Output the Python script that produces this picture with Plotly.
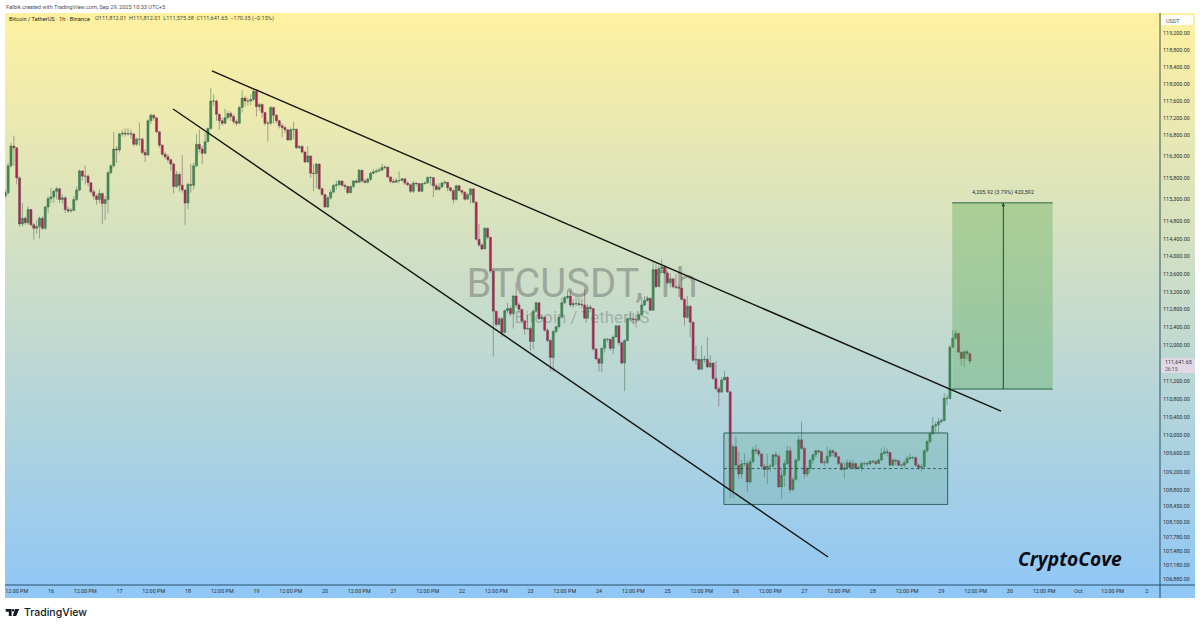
import numpy as np
import pandas as pd
import plotly.graph_objects as go

W, H = 1200, 627
start_time = "2025-09-15 08:00"
first_open = 115380

closes = [115455,116080,116540,116500,115800,114740,114870,114770,115070,114720,114640,114680,114870,114640,115130,115320,115360,115490,115550,115300,115340,115070,115040,115050,115300,115520,115960,115840,115840,115690,115480,115380,115300,115440,115210,115300,115920,116080,116470,116450,
116820,116840,116820,116830,116820,116580,116700,116700,116390,116330,117130,117260,117200,116870,116560,116350,116290,116220,116120,115600,115880,115630,115520,115220,115650,115630,116080,116580,116470,116370,116640,116950,117590,117590,117280,117130,117070,117200,117300,117230,
117110,117070,117440,117660,117590,117590,117630,117820,117460,117510,117320,117070,117070,117440,117260,117130,117010,116970,116920,116680,116920,116930,116500,116530,116400,116170,116310,115910,115900,116120,115550,115420,115130,115340,115470,115630,115640,115730,115630,115600,
115460,115600,115730,115700,115980,115730,115700,115770,115910,115940,115960,115980,116040,116050,115820,115720,115700,115740,115740,115780,115680,115640,115490,115680,115670,115490,115670,115680,115810,115810,115620,115530,115590,115680,115700,115570,115510,115300,115620,115510,
115470,115310,115410,115545,115240,114390,114260,114170,114640,114435,113665,112760,112460,112590,112280,112770,112820,112700,113100,112900,112800,112540,112360,112370,112080,112760,112950,112590,112620,112330,112100,111720,112300,112410,112620,112950,113065,113100,112900,112930,
112930,112910,112900,112600,112850,112820,111910,111690,111590,111925,112130,112130,111925,112180,112430,112050,111600,112100,112590,112590,112565,112565,112680,112900,113000,113050,112780,113700,113310,113720,113760,113620,113400,113490,113310,113300,113280,113025,112620,112870,
112510,111660,111680,111460,111680,111680,111510,111600,111255,111025,110950,111220,111280,110960,108795,109750,109345,109150,109370,109380,108980,109420,109680,109660,109590,109320,109250,109320,109320,109570,109540,108870,109125,109380,109660,108810,109030,109455,109900,109710,
109150,109270,109455,109570,109660,109640,109400,109400,109540,109660,109620,109530,109380,109250,109290,109400,109290,109380,109270,109290,109380,109380,109370,109430,109420,109380,109455,109600,109640,109620,109345,109455,109440,109345,109345,109400,109490,109510,109510,109345,
109290,109310,109660,109860,110030,110205,110230,110300,110325,110815,110815,111950,112150,112260,111840,111700,111850,111812.01,111641.65]

highs = [115530,116150,116610,116780,116150,115840,115220,114910,115140,115080,114760,114830,114910,114910,115160,115380,115570,115530,115600,115570,115420,115380,115140,115110,115380,115600,116000,115980,116080,115880,115700,115530,115420,115530,115460,115380,115960,116120,116870,116540,
116850,116920,116950,116970,116920,116850,116740,117090,116740,116470,117160,117300,117280,117200,116890,116580,116390,116350,116250,116150,115960,115920,116330,115530,115690,116120,116150,116820,116930,116540,116850,116970,117900,117750,117630,117280,117200,117410,117360,117340,
117280,117160,117480,117850,117710,117670,117750,117880,117860,117550,117540,117340,117130,117480,117460,117280,117150,117070,117020,116920,116970,117100,116950,116560,116560,116430,116540,116310,116120,116150,116140,115570,115420,115380,115530,115650,115730,115750,115730,115670,
115630,115630,115750,115770,116000,115980,115780,115810,115940,116000,116010,116040,116120,116090,116050,115840,115780,115800,115950,115800,115780,115720,115670,115720,115700,115670,115680,115720,115840,115840,115820,115670,115680,115710,115740,115680,115590,115530,115640,115640,
115530,115490,115450,115570,115570,115260,114740,114300,114670,114660,114450,113700,112770,112640,112620,112800,112950,112870,113130,113410,112950,112800,112560,112680,112410,112800,112970,112950,112680,112640,112370,112130,112330,112430,112640,113065,113100,113230,113220,113030,
113065,113065,113030,113260,112910,112900,112830,111930,111720,111950,112160,112140,112130,112220,112450,112450,112080,112130,112620,112720,112720,112680,112720,113080,113100,113100,113065,113870,113840,113800,113930,113800,113660,113620,113490,113600,113360,113570,113065,113100,
112900,112530,111990,111690,111990,111760,112180,111770,111600,111640,111080,111280,111420,111300,110960,109790,109970,109640,109460,109600,109460,109490,109750,109790,109710,109600,109380,109590,109370,109590,109640,109590,109240,109460,109770,109750,109090,109490,109985,110300,
109750,109310,109470,109600,109680,109680,109660,109460,109750,109710,109690,109640,109540,109420,109420,109470,109460,109460,109400,109345,109420,109420,109420,109460,109460,109460,109490,109710,109750,109710,109640,109490,109485,109460,109380,109460,109540,109590,109540,109530,
109380,109380,109690,109900,110080,110400,110300,110375,110375,110925,110890,112000,112330,112340,112280,111850,111870,111900,111812.01]

lows = [115340,115420,116040,116080,115650,114680,114680,114720,114720,114680,114380,114520,114410,114600,114600,114990,115220,115220,115300,115220,115210,114990,114990,115000,115030,115260,115490,115730,115650,115610,115440,115300,115180,115220,114740,114830,114990,115880,116040,116150,
116390,116760,116760,116780,116710,116530,116540,116540,116350,116170,116310,117050,117130,116840,116500,116310,116230,116150,115960,115440,115570,115490,115460,114720,115080,115460,115530,116050,116390,116120,116350,116620,116920,117480,117130,116920,117010,117050,117160,117130,
117050,117010,117050,117320,117460,117480,117490,117590,117230,117360,117200,117020,116640,117020,117070,117070,116950,116740,116840,116660,116680,116700,116470,116470,116370,116140,116150,115800,115490,115570,115520,115380,115110,115110,115300,115460,115530,115610,115600,115530,
115420,115440,115570,115670,115690,115690,115670,115670,115730,115880,115910,115940,115980,116000,115800,115680,115680,115700,115680,115720,115640,115610,115450,115450,115610,115470,115470,115640,115670,115620,115360,115510,115510,115570,115640,115490,115470,115210,115280,115490,
115410,115280,115300,115210,115210,114360,114220,114140,114170,114390,113620,111740,112410,112450,112180,112260,112720,112640,112370,112850,112720,112490,112230,112330,111870,111910,112720,112560,112560,112300,112060,111410,111410,112260,112370,112600,112910,113030,112850,112830,
112870,112870,112820,112590,112590,112770,111870,111660,111410,111390,111830,112060,111870,111790,112160,112000,111560,110970,112080,112530,112460,112390,112530,112680,112870,112970,112760,112770,113280,113310,113620,113590,113360,113300,113280,113260,113260,113000,112430,112590,
112180,111620,111560,111430,111450,111600,111480,111490,111220,110990,110630,110960,111220,110930,108630,108630,109310,109050,109050,109320,108760,108940,109380,109590,109540,109270,109070,108940,109200,109290,109350,108850,108610,108870,109350,108740,108780,109015,109420,109680,
109050,109090,109180,109380,109515,109590,109370,109320,109370,109515,109530,109500,109340,109220,109050,109250,109240,109250,109240,109250,109200,109320,109320,109345,109380,109350,109370,109440,109570,109540,109320,109320,109345,109320,109310,109270,109370,109460,109460,109310,
109240,109200,109290,109620,109820,110010,110060,110040,110265,110300,110670,110780,111930,112120,111820,111540,111520,111680,111575.38]

price_ticks = [119200,118800,118400,118000,117600,117200,116800,116300,115800,115300,114800,114400,114000,113600,113200,112800,112400,112000,111200,110800,110400,110000,109600,109200,108800,108450,108100,107780,107480,107180,106880]

upper_x = ["2025-09-18 08:24", "2025-09-29 20:54"]
upper_y = [118300, 110530]
lower_x = ["2025-09-17 18:48", "2025-09-27 08:18"]
lower_y = [117405, 107357]

range_x = ["2025-09-25 19:48", "2025-09-29 02:12"]
range_top, range_mid, range_bottom = 110050, 109270, 108490

target_x = ["2025-09-29 03:48", "2025-09-29 21:42", "2025-09-30 15:00"]
target_top, target_bottom = 115225, 111019

times = pd.date_range(start_time, periods=len(closes), freq="h")
opens = [first_open] + closes[:-1]
opens[-1] = 111812.01
hi = [max(a, b, c) for a, b, c in zip(highs, opens, closes)]
lo = [min(a, b, c) for a, b, c in zip(lows, opens, closes)]

tick_times = pd.date_range("2025-09-15 12:00", "2025-10-02 00:00", freq="12h")
tick_text = []
for t in tick_times:
    if t.hour == 12:
        tick_text.append("12:00 PM")
    elif t.day == 1:
        tick_text.append("Oct")
    else:
        tick_text.append(str(t.day))

FONT = "Roboto, Arial, sans-serif"
INK = "#2b2f33"
FRAME = "rgba(20,60,80,0.85)"


def px(x):
    return x / W


def py(y):
    return 1 - y / H


fig = go.Figure()

# backdrop gradient, in pixel-like axes
grad_y = np.linspace(13, 598, 300)
fig.add_trace(go.Heatmap(x=[5, 1195], y=grad_y, z=np.column_stack([grad_y, grad_y]),
                         colorscale=[[0, "#fff1a0"], [1, "#8fc7f7"]], showscale=False,
                         hoverinfo="skip", xaxis="x", yaxis="y"))
fig.add_trace(go.Scatter(x=[582], y=[287], mode="text", text=["BTCUSDT, 1h"],
                         textfont=dict(family="Roboto, Arial", size=40, color="rgba(90,90,90,0.42)"),
                         hoverinfo="skip", showlegend=False, xaxis="x", yaxis="y"))
fig.add_trace(go.Scatter(x=[582], y=[319], mode="text", text=["Bitcoin / TetherUS"],
                         textfont=dict(family="Roboto, Arial", size=16.8, color="rgba(90,90,90,0.36)"),
                         hoverinfo="skip", showlegend=False, xaxis="x", yaxis="y"))

fig.add_trace(go.Candlestick(x=times, open=opens, high=hi, low=lo, close=closes,
                             increasing=dict(line=dict(color="#3c6e4c", width=0.5), fillcolor="#3f8c55"),
                             decreasing=dict(line=dict(color="#6e4a58", width=0.5), fillcolor="#b3204f"),
                             whiskerwidth=0, hoverinfo="skip", showlegend=False,
                             xaxis="x2", yaxis="y2"))

# accumulation box
fig.add_trace(go.Scatter(x=[range_x[0], range_x[1], range_x[1], range_x[0], range_x[0]],
                         y=[range_top, range_top, range_bottom, range_bottom, range_top],
                         mode="lines", fill="toself", fillcolor="rgba(60,150,95,0.18)",
                         line=dict(color="rgba(35,90,85,0.9)", width=1),
                         hoverinfo="skip", showlegend=False, xaxis="x2", yaxis="y2"))
fig.add_trace(go.Scatter(x=range_x, y=[range_mid, range_mid], mode="lines",
                         line=dict(color="#1e4a45", width=0.8, dash="3px,2.5px"),
                         hoverinfo="skip", showlegend=False, xaxis="x2", yaxis="y2"))

# target box
fig.add_trace(go.Scatter(x=[target_x[0], target_x[2], target_x[2], target_x[0], target_x[0]],
                         y=[target_top, target_top, target_bottom, target_bottom, target_top],
                         mode="lines", fill="toself", fillcolor="rgba(76,165,70,0.33)",
                         line=dict(width=0), hoverinfo="skip", showlegend=False, xaxis="x2", yaxis="y2"))
for level in (target_top, target_bottom):
    fig.add_trace(go.Scatter(x=[target_x[0], target_x[2]], y=[level, level], mode="lines",
                             line=dict(color="rgba(35,95,65,0.95)", width=1),
                             hoverinfo="skip", showlegend=False, xaxis="x2", yaxis="y2"))
fig.add_trace(go.Scatter(x=[target_x[1], target_x[1]], y=[target_bottom, target_top], mode="lines",
                         line=dict(color="#1f4a35", width=1), hoverinfo="skip", showlegend=False,
                         xaxis="x2", yaxis="y2"))
fig.add_trace(go.Scatter(x=[target_x[1]], y=[target_top], mode="markers",
                         marker=dict(symbol="arrow-up", size=3.5, color="#1f4a35", line=dict(width=0)),
                         hoverinfo="skip", showlegend=False, xaxis="x2", yaxis="y2"))

# trendlines
for xs, ys in ((upper_x, upper_y), (lower_x, lower_y)):
    fig.add_trace(go.Scatter(x=xs, y=ys, mode="lines", line=dict(color="#15150f", width=1.4),
                             hoverinfo="skip", showlegend=False, xaxis="x2", yaxis="y2"))

shapes = [
    dict(type="line", xref="paper", yref="paper", x0=px(1160), x1=px(1160), y0=py(13), y1=py(598),
         line=dict(color=FRAME, width=1)),
    dict(type="line", xref="paper", yref="paper", x0=px(5), x1=px(1195), y0=py(585), y1=py(585),
         line=dict(color=FRAME, width=1)),
    dict(type="rect", xref="paper", yref="paper", x0=px(1161), x1=px(1193), y0=py(15), y1=py(25),
         fillcolor="rgba(255,255,255,0.9)", line=dict(width=0)),
    dict(type="rect", xref="paper", yref="paper", x0=px(1161), x1=px(1195), y0=py(358), y1=py(373),
         fillcolor="rgba(232,215,232,0.85)", line=dict(width=0)),
    # TradingView mark
    dict(type="path", xref="paper", yref="paper", fillcolor="#131722", line=dict(width=0),
         path=" ".join(f"{c}{px(a)},{py(b)}" for c, a, b in
                       [("M", 5.7, 609), ("L", 11.6, 609), ("L", 11.6, 616), ("L", 8.8, 616),
                        ("L", 8.8, 611.8), ("L", 5.7, 611.8)]) + " Z"),
    dict(type="path", xref="paper", yref="paper", fillcolor="#131722", line=dict(width=0),
         path=" ".join(f"{c}{px(a)},{py(b)}" for c, a, b in
                       [("M", 15, 609), ("L", 19.2, 609), ("L", 16.2, 616), ("L", 12.8, 616)]) + " Z"),
    dict(type="circle", xref="paper", yref="paper", x0=px(12), x1=px(14.2), y0=py(609), y1=py(611.4),
         fillcolor="#131722", line=dict(width=0)),
]


def label(x, y, text, size=6, color=INK, anchor="left", family=FONT, weight=None, italic=False):
    return dict(xref="paper", yref="paper", x=px(x), y=py(y), text=text, showarrow=False,
                xanchor=anchor, yanchor="middle", align="left", borderpad=0,
                font=dict(family=family, size=size, color=color, weight=weight,
                          style="italic" if italic else "normal"))


annotations = [
    label(5, 7, "Falbik created with TradingView.com, Sep 29, 2025 10:33 UTC+5", 5.6, "#4a4f55"),
    label(8, 19, "Bitcoin / TetherUS · 1h · Binance", 5.7, "#2a2a20"),
    label(94, 19, "O111,812.01  H111,812.01  L111,575.38  C111,641.65  −170.35 (−0.15%)", 5.55, "#4a4a30"),
    label(1003, 192, "4,205.92 (3.79%) 420,592", 5.5, INK, anchor="center"),
    label(1165, 20.5, "USDT", 5.5, "#555a60"),
    label(1163.5, 362, "111,641.65", 5.4, "#33373b"),
    label(1163.5, 369, "26:15", 5, "#555a60"),
    label(1017, 558, "CryptoCove", 19.2, "#0c0c14", family="Open Sans, Arial", weight=700, italic=True),
    label(23, 612.7, "TradingView", 10.5, "#131722", family="Inter, Arial", weight=500),
]

fig.update_layout(
    width=W, height=H, margin=dict(l=0, r=0, t=0, b=0), paper_bgcolor="white", plot_bgcolor="rgba(0,0,0,0)",
    showlegend=False, boxgap=0.27, boxgroupgap=0, hovermode=False,
    xaxis=dict(domain=[px(5), px(1195)], range=[5, 1195], visible=False, fixedrange=True),
    yaxis=dict(domain=[py(598), py(13)], range=[598, 13], visible=False, fixedrange=True, anchor="x"),
    xaxis2=dict(domain=[px(5), px(1160)], range=["2025-09-15 07:54", "2025-10-02 04:36"], type="date",
                anchor="y2", showgrid=False, zeroline=False, showline=False,
                tickmode="array", tickvals=list(tick_times), ticktext=tick_text,
                ticks="outside", ticklen=1, tickcolor="rgba(0,0,0,0)",
                tickfont=dict(family=FONT, size=5.4, color=INK), tickangle=0,
                rangeslider=dict(visible=False)),
    yaxis2=dict(domain=[py(585), py(13)], type="log",
                range=[float(np.log10(106759)), float(np.log10(119677))],
                anchor="x2", side="right", showgrid=False, zeroline=False, showline=False,
                tickmode="array", tickvals=price_ticks,
                ticktext=[f"{v:,.2f}" for v in price_ticks],
                ticks="outside", ticklen=1, tickcolor="rgba(0,0,0,0)",
                tickfont=dict(family=FONT, size=5.4, color=INK)),
    shapes=shapes, annotations=annotations,
)

fig.write_html("out.html", config=dict(displayModeBar=False),
               post_script="document.body.style.margin='0';")
